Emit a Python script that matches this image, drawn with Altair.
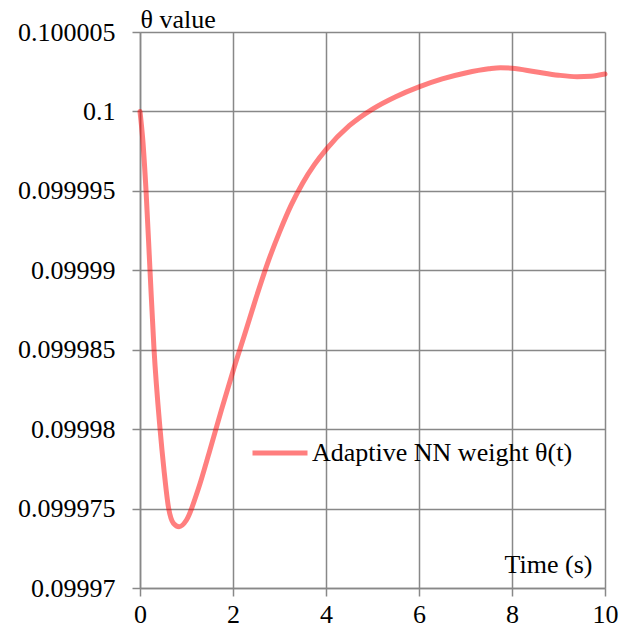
import json
import altair as alt
import pandas as pd

time_s = [0.0, 0.06, 0.13, 0.215, 0.30, 0.43, 0.516, 0.61, 0.72, 0.84, 1.0, 1.25,
          1.5, 1.75, 2.0, 2.25, 2.5, 2.75, 3.0, 3.25, 3.5, 3.75, 4.0, 4.5, 5.0,
          5.5, 6.0, 6.5, 7.0, 7.5, 7.75, 8.0, 8.5, 9.0, 9.4, 9.7, 10.0]
theta = [0.1, 0.0999982, 0.099995, 0.09999, 0.0999851, 0.09998005,
         0.09997743, 0.09997512, 0.09997407, 0.09997386, 0.09997428, 0.0999762,
         0.09997865, 0.0999812, 0.09998365, 0.09998595, 0.0999883, 0.0999905,
         0.0999924, 0.0999941, 0.0999955, 0.09999665, 0.0999976, 0.0999991, 0.10000015,
         0.10000093, 0.10000155, 0.10000205, 0.10000242, 0.10000268, 0.10000275,
         0.10000272, 0.1000025, 0.10000228, 0.10000219, 0.10000222, 0.10000236]
series_name = "Adaptive NN weight θ(t)"

x_ticks = [0, 2, 4, 6, 8, 10]
y_ticks = [0.09997, 0.099975, 0.09998, 0.099985, 0.09999, 0.099995, 0.1, 0.100005]
y_labels = ["0.09997", "0.099975", "0.09998", "0.099985", "0.09999", "0.099995", "0.1", "0.100005"]

df = pd.DataFrame({"t": time_s, "theta": theta, "series": series_name})

FONT = "Liberation Serif"
FS = 26
GRID = "#888888"

y_label_expr = f"{json.dumps(y_labels)}[round((datum.value - 0.09997) / 0.000005)]"

axis_common = dict(labelFont=FONT, labelFontSize=FS, labelColor="black",
                   titleFont=FONT, titleFontSize=FS, titleColor="black",
                   titleFontWeight="normal", titleAngle=0, labelFlush=False,
                   labelOverlap=False)

chart = alt.Chart(df).mark_line(
    strokeWidth=5, opacity=0.5, interpolate="monotone", strokeCap="round", strokeJoin="round"
).encode(
    x=alt.X("t:Q", scale=alt.Scale(domain=[0, 10], nice=False, zero=False),
            axis=alt.Axis(values=x_ticks, title="Time (s)", titleX=452, titleY=-16,
                          titleAlign="right", titleBaseline="alphabetic",
                          labelPadding=5, format="d", **axis_common)),
    y=alt.Y("theta:Q", scale=alt.Scale(domain=[0.09997, 0.100005], nice=False, zero=False),
            axis=alt.Axis(values=y_ticks, title="θ value", titleX=0, titleY=-5,
                          titleAlign="left", titleBaseline="alphabetic",
                          labelPadding=17, labelExpr=y_label_expr, **axis_common)),
    color=alt.Color("series:N", scale=alt.Scale(range=["red"]),
                    legend=alt.Legend(title=None, orient="none", legendX=110, legendY=391,
                                      symbolType="stroke", symbolSize=3025, symbolStrokeWidth=5,
                                      symbolOpacity=0.5, labelOffset=2, padding=0,
                                      labelFont=FONT, labelFontSize=FS, labelColor="black",
                                      labelLimit=400)),
).properties(
    width=465, height=556,
    padding={"left": 140, "top": 32, "right": 23, "bottom": 40},
    autosize="none",
    background="white",
).configure_axis(
    gridColor=GRID, gridWidth=1.5, gridOpacity=1,
    domainColor=GRID, domainWidth=1.5,
    tickColor=GRID, tickWidth=1.5, tickSize=8,
).configure_view(stroke=None)

chart.save("out.html", embed_options={"renderer": "svg", "actions": False})
